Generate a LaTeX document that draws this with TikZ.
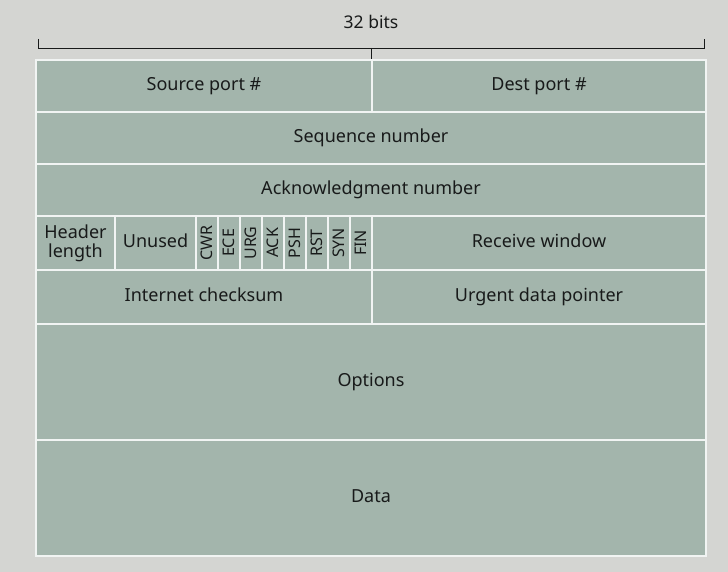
\documentclass[tikz,border=0pt]{standalone}
\usepackage{fontspec}
\setmainfont{Noto Sans}
\usetikzlibrary{positioning}
\definecolor{fieldgray}{RGB}{163,181,172}
\definecolor{paper}{RGB}{212,213,210}
\definecolor{inkdark}{RGB}{24,26,26}
\newcommand{\vflag}[1]{\rotatebox{90}{#1}}

\begin{document}
\begin{tikzpicture}[x=1pt,y=-1pt,
        field/.style={draw=white!85!fieldgray,line width=1.5pt,fill=fieldgray,inner sep=0pt,outer sep=0pt,
                      anchor=north west,minimum height=52pt,text=inkdark,align=center,font=\fontsize{18}{21}\selectfont},
        cell/.style={field,text height=13pt,text depth=4pt},
        flag/.style={field,minimum width=22pt,minimum height=54pt,font=\fontsize{16}{18}\selectfont},
        brace/.style={draw=inkdark,line width=0.9pt}]
        \fill[paper] (0,0) rectangle (728,572);
        \useasboundingbox (0,0) rectangle (728,572);
        % width marker
        \node[text=inkdark,font=\fontsize{17.5}{20}\selectfont] (width) at (371,22) {32 bits};
        \coordinate (braceL) at (38,48);
        \coordinate (braceM) at (371,48);
        \coordinate (braceR) at (704,48);
        \draw[brace] ([yshift=9pt]braceL) -- (braceL) -- (braceR) -- ([yshift=9pt]braceR);
        \draw[brace] (braceM) -- ([yshift=-11pt]braceM);
        % header rows
        \node[cell,minimum width=336pt] (srcport) at (36,60) {Source port \#};
        \node[cell,minimum width=334pt,right=0pt of srcport] (dstport) {Dest port \#};
        \node[cell,minimum width=670pt] (seqnum) at (36,112) {Sequence number};
        \node[cell,minimum width=670pt] (acknum) at (36,164) {Acknowledgment number};
        \node[field,minimum width=79pt,minimum height=54pt] (hlen) at (36,216) {Header\\[-2pt]length};
        \node[cell,minimum width=81pt,minimum height=54pt,right=0pt of hlen] (unused) {Unused};
        \node[flag,right=0pt of unused] (cwr) {\vflag{CWR}};
        \node[flag,right=0pt of cwr] (ece) {\vflag{ECE}};
        \node[flag,right=0pt of ece] (urg) {\vflag{URG}};
        \node[flag,right=0pt of urg] (ack) {\vflag{ACK}};
        \node[flag,right=0pt of ack] (psh) {\vflag{PSH}};
        \node[flag,right=0pt of psh] (rst) {\vflag{RST}};
        \node[flag,right=0pt of rst] (syn) {\vflag{SYN}};
        \node[flag,right=0pt of syn] (fin) {\vflag{FIN}};
        \node[cell,minimum width=334pt,minimum height=54pt,right=0pt of fin] (rwnd) {Receive window};
        \node[cell,minimum width=336pt,minimum height=54pt] (checksum) at (36,270) {Internet checksum};
        \node[cell,minimum width=334pt,minimum height=54pt,right=0pt of checksum] (urgptr) {Urgent data pointer};
        % variable part
        \node[cell,minimum width=670pt,minimum height=116pt] (options) at (36,324) {Options};
        \node[cell,minimum width=670pt,minimum height=116pt] (data) at (36,440) {Data};
\end{tikzpicture}
\end{document}
